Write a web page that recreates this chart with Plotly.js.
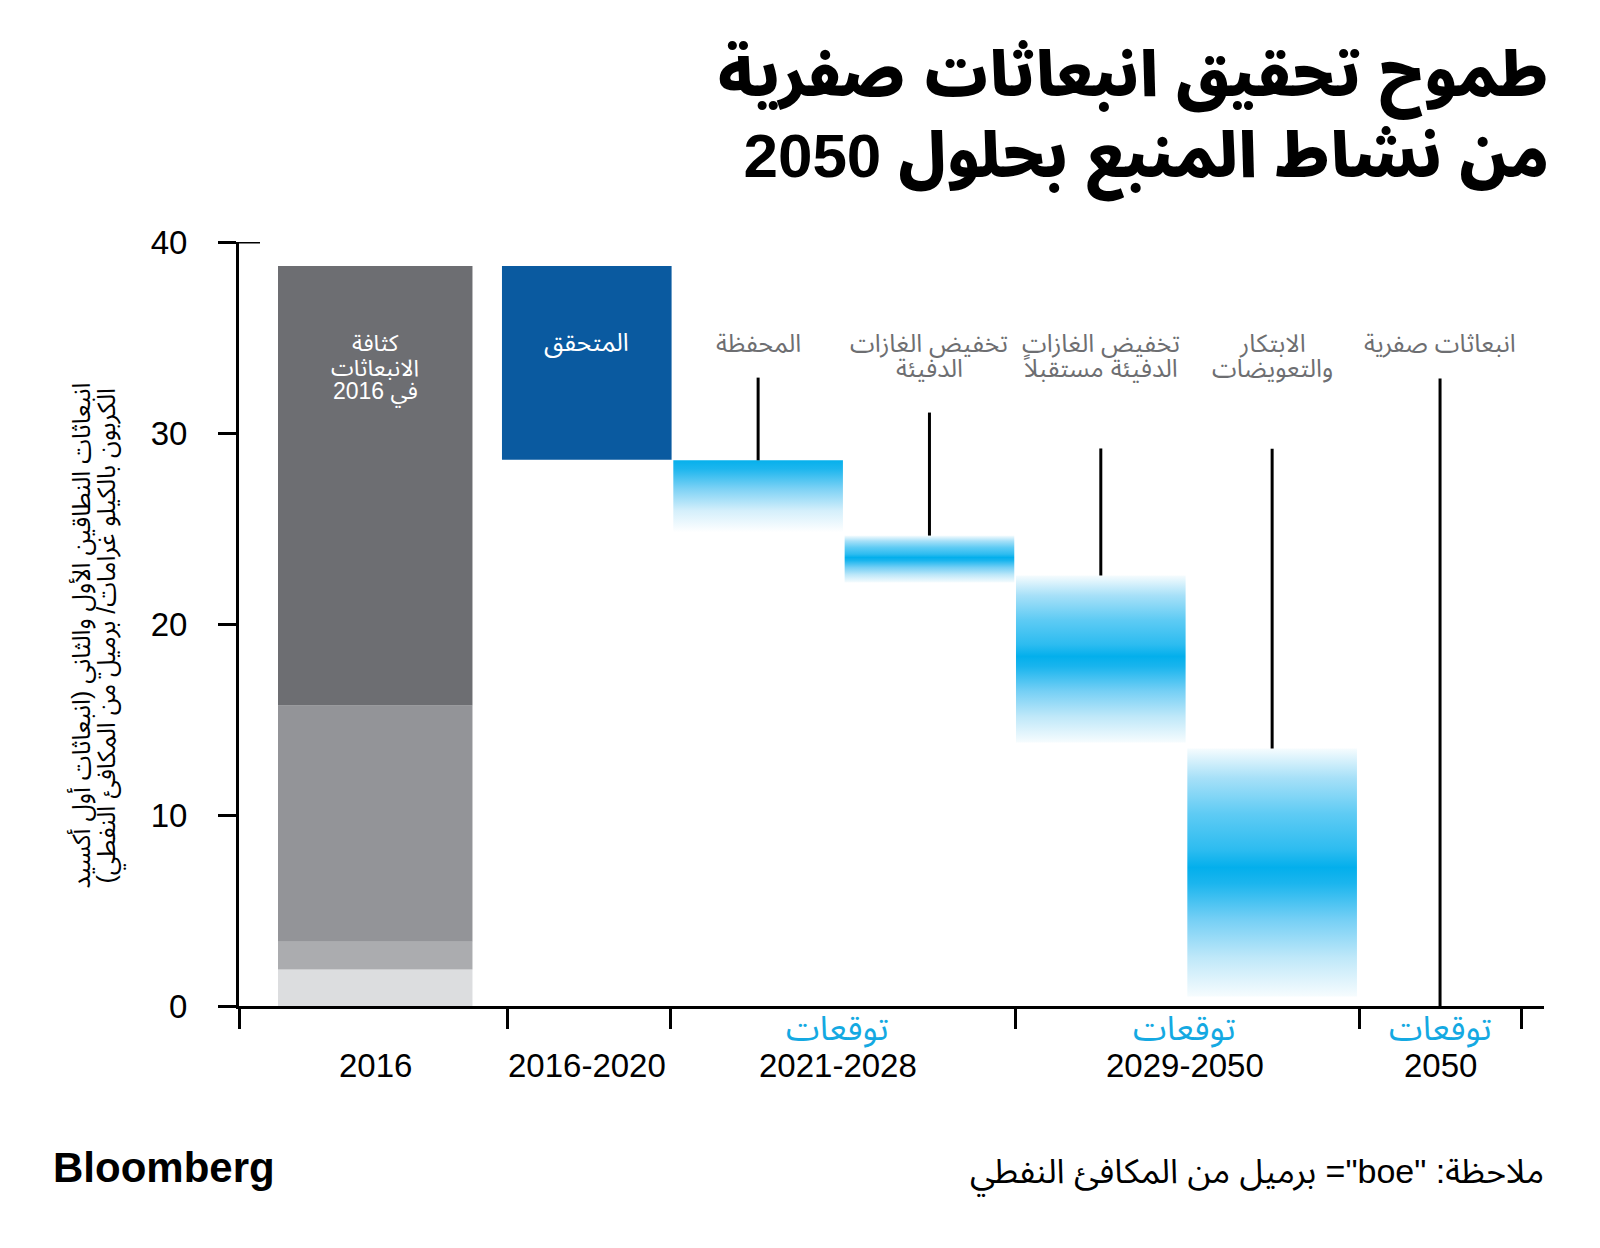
<!DOCTYPE html>
<html><head><meta charset="utf-8">
<script src="https://cdn.plot.ly/plotly-3.0.1.min.js"></script>
<style>html,body{margin:0;padding:0;background:#fff}#chart{width:1600px;height:1248px}</style>
</head><body><div id="chart"></div>
<script>
// ---------------- DATA ----------------
const yearLabels = ['2016', '2016-2020', '2021-2028', '2029-2050', '2050'];
const forecastWord = 'توقعات';
const isForecast = [false, false, true, true, true];
// 2016 intensity, stacked components bottom -> top (kg CO2e / boe)
const intensity2016Segments = [1.91, 1.45, 12.37, 23.01];
const barLabel2016 = 'كثافة<br>الانبعاثات<br>في 2016';
// achieved reduction 2016-2020: from -> to
const achievedFrom = 38.74;
const achievedTo = 28.6;
const achievedLabel = 'المتحقق';
// projected reduction steps (ranges) and zero target
const stepLabels = ['المحفظة', 'تخفيض الغازات<br>الدفيئة', 'تخفيض الغازات<br>الدفيئة مستقبلاً', 'الابتكار<br>والتعويضات'];
const stepTop = [28.57, 24.63, 22.54, 13.48];
const stepBottom = [24.8, 22.17, 13.8, 0.5];
const stepPeak = [28.57, 23.48, 18.3, 7.25];
const zeroLabel = 'انبعاثات صفرية';
const zeroValue = 0;
const yTicks = [0, 10, 20, 30, 40];
const titleText = 'طموح تحقيق انبعاثات صفرية<br>من نشاط المنبع بحلول 2050';
const yTitleLines = ['انبعاثات النطاقين الأول والثاني (انبعاثات أول أكسيد', 'الكربون بالكيلو غرامات/ برميل من المكافئ النفطي)'];
const noteText = 'ملاحظة: "boe"= برميل من المكافئ النفطي';
const sourceText = 'Bloomberg';

// ---------------- LAYOUT CONSTANTS ----------------
const W = 1600, H = 1248;
const ML = 239.3, MR = 56, MT = 241.7, MB = 241.5;
const PW = W - ML - MR, PH = H - MT - MB;
const PX_PER_UNIT = 171.3, X1PX = 587;
const R0 = 1 + (ML - X1PX) / PX_PER_UNIT;
const R1 = R0 + PW / PX_PER_UNIT;
const pxX = px => (px - ML) / PW;
const pxY = px => (H - MB - px) / PH;
const c2016 = 1 + (375.5 - X1PX) / PX_PER_UNIT, w2016 = 1.135;
const colW = 0.99;
const stepCenters = stepLabels.map((_, i) => 2 + i);
const zeroCenter = 5.98;
const leaderTop = [32.9, 31.07, 29.19, 29.17, 32.85];
const boundaries = [R0 + 0.002, 0.535, 1.49, 3.5, 5.51, 6.455];
const groupCenters = [c2016, 1, 2.465, 4.49, 5.98];

const FONT = '"Liberation Sans", "Noto Sans Arabic", "DejaVu Sans", sans-serif';
const rtl1 = l => '\u202B' + l + '\u202C';
const rtl = s => s.split('<br>').map(rtl1).join('<br>');
const GREYS = ['#dcdddf', '#abacaf', '#939498', '#6d6e72'];
const DARKBLUE = '#0a5aa0';
const LABELGREY = '#6d6e71';
const FORECAST = '#14a9e2';

function gradScale(p) {
  if (p >= 0.99) {
    return [[0, '#ffffff'], [0.3, '#d4effb'], [0.6, '#7ed2f5'], [0.88, '#1db6ee'], [1, '#06b0ec']];
  }
  const a = p, b = 1 - p;
  return [[0, '#f6fcfe'], [a * 0.3, '#bfe8f9'], [a * 0.6, '#74cff5'], [a * 0.88, '#1ab5ee'], [a, '#03afec'],
          [a + b * 0.15, '#2dbcf0'], [a + b * 0.45, '#5ecbf4'], [a + b * 0.75, '#a6e0f8'], [1, '#f6fcfe']];
}

// ---------------- TRACES ----------------
const traces = [];
let base = 0;
intensity2016Segments.forEach((v, i) => {
  traces.push({type: 'bar', x: [c2016], y: [v], base: [base], width: [w2016],
    marker: {color: GREYS[i], line: {width: 0}}, hoverinfo: 'skip', showlegend: false});
  base += v;
});
traces.push({type: 'bar', x: [1], y: [achievedFrom - achievedTo], base: [achievedTo], width: [colW],
  marker: {color: DARKBLUE, line: {width: 0}}, hoverinfo: 'skip', showlegend: false});

stepLabels.forEach((_, i) => {
  const c = stepCenters[i], x0 = c - colW / 2, x1 = c + colW / 2;
  const t = stepTop[i], b = stepBottom[i];
  const p = (stepPeak[i] - b) / (t - b);
  traces.push({type: 'scatter', x: [x0, x1, x1, x0, x0], y: [b, b, t, t, b], mode: 'none', fill: 'toself',
    fillgradient: {type: 'vertical', start: b, stop: t, colorscale: gradScale(p)},
    hoverinfo: 'skip', showlegend: false});
});
stepLabels.forEach((_, i) => {
  traces.push({type: 'scatter', x: [stepCenters[i], stepCenters[i]], y: [leaderTop[i], stepTop[i]], mode: 'lines',
    line: {color: '#000', width: 3}, hoverinfo: 'skip', showlegend: false});
});
traces.push({type: 'scatter', x: [zeroCenter, zeroCenter], y: [leaderTop[4], zeroValue], mode: 'lines',
  line: {color: '#000', width: 3}, hoverinfo: 'skip', showlegend: false});

// ---------------- ANNOTATIONS ----------------
const ann = [];
function addLines(text, x, firstPx, step, font) {
  text.split('<br>').forEach((l, k) => {
    ann.push({x: x, y: pxY(firstPx + k * step), xref: 'x', yref: 'paper', xanchor: 'center', yanchor: 'middle',
      text: rtl1(l), showarrow: false, font: font, borderpad: 0});
  });
}
const greyFont = {family: FONT, size: 25, color: LABELGREY};
const whiteFont = {family: FONT, size: 23, color: '#ffffff'};
stepLabels.forEach((s, i) => addLines(s, stepCenters[i], 343, 25, greyFont));
addLines(zeroLabel, zeroCenter, 343, 25, greyFont);
addLines(barLabel2016, c2016, 343, 25, whiteFont);
addLines(achievedLabel, 1, 343, 25, {family: FONT, size: 25, color: '#ffffff'});
yearLabels.forEach((s, i) => {
  ann.push({x: groupCenters[i], y: pxY(1066), xref: 'x', yref: 'paper', xanchor: 'center', yanchor: 'middle',
    text: s, showarrow: false, font: {family: FONT, size: 33, color: '#000'}});
  if (isForecast[i]) {
    ann.push({x: groupCenters[i], y: pxY(1029), xref: 'x', yref: 'paper', xanchor: 'center', yanchor: 'middle',
      text: rtl1(forecastWord), showarrow: false, font: {family: FONT, size: 34, color: FORECAST}});
  }
});
// y axis title (two rotated lines)
yTitleLines.forEach((l, k) => {
  ann.push({x: pxX(84 + k * 25), y: pxY(636), xref: 'paper', yref: 'paper', xanchor: 'center', yanchor: 'middle',
    textangle: -90, showarrow: false, text: rtl1(l), font: {family: FONT, size: 25, color: '#000'}});
});
// footer
ann.push({x: pxX(51), y: pxY(1168), xref: 'paper', yref: 'paper', xanchor: 'left', yanchor: 'middle', showarrow: false,
  text: sourceText, font: {family: '"Liberation Sans", Arial, sans-serif', size: 42, color: '#000', weight: 'bold'}});
ann.push({x: pxX(1546), y: pxY(1175), xref: 'paper', yref: 'paper', xanchor: 'right', yanchor: 'middle', showarrow: false,
  text: rtl1(noteText), font: {family: FONT, size: 34, color: '#000'}});

const layout = {
  width: W, height: H, margin: {l: ML, r: MR, t: MT, b: MB, pad: 0},
  paper_bgcolor: '#fff', plot_bgcolor: '#fff', barmode: 'overlay', hovermode: false, showlegend: false,
  title: {text: rtl(titleText), xref: 'container', yref: 'container',
    x: 1549 / W, xanchor: 'right', y: 1 - 96 / H, yanchor: 'top',
    font: {family: FONT, size: 62, color: '#000', weight: 900}},
  xaxis: {range: [R0, R1], showgrid: false, zeroline: false, showline: true, linecolor: '#000', linewidth: 3,
    tickmode: 'array', tickvals: boundaries, showticklabels: false, ticks: 'outside', ticklen: 20, tickwidth: 3,
    tickcolor: '#000', fixedrange: true},
  yaxis: {range: [0, 40], showgrid: false, zeroline: false, showline: true, linecolor: '#000', linewidth: 3,
    tickmode: 'array', tickvals: yTicks, ticktext: yTicks.map(String), ticks: 'outside', ticklen: 18, tickwidth: 3,
    tickcolor: '#000', ticklabelstandoff: 24, tickfont: {family: FONT, size: 33, color: '#000'}, fixedrange: true},
  shapes: [{type: 'line', xref: 'paper', yref: 'y', x0: 0, x1: 21 / PW, y0: 40, y1: 40,
    line: {color: '#000', width: 3}}],
  annotations: ann
};
Plotly.newPlot('chart', traces, layout, {displayModeBar: false, staticPlot: true});
</script></body></html>
